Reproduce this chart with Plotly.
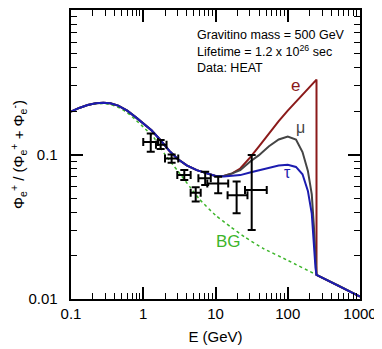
import numpy as np
import plotly.graph_objects as go

# total positron fraction (signal + BG), identical for all channels below ~10 GeV
E_TOT = [0.1, 0.13, 0.17, 0.22, 0.28, 0.35, 0.45, 0.6, 0.8, 1.0, 1.3, 1.7, 2.3, 3.0, 4.0, 5.5, 7.5]
R_TOT = [0.198, 0.210, 0.220, 0.226, 0.228, 0.226, 0.218, 0.201, 0.180, 0.164, 0.147, 0.127, 0.106, 0.093, 0.084, 0.078, 0.074]

# channel-dependent part, 10 GeV up to the cut-off at 250 GeV
E_SIG = [10, 13, 17, 22, 30, 40, 55, 75, 100, 130, 160, 190, 215, 230, 242, 250]
R_E   = [0.071, 0.071, 0.074, 0.080, 0.095, 0.114, 0.140, 0.170, 0.201, 0.232, 0.259, 0.284, 0.304, 0.315, 0.324, 0.330]
R_MU  = [0.071, 0.071, 0.074, 0.078, 0.089, 0.099, 0.114, 0.127, 0.133, 0.127, 0.104, 0.077, 0.053, 0.032, 0.020, 0.0147]
R_TAU = [0.071, 0.0705, 0.071, 0.072, 0.075, 0.078, 0.081, 0.084, 0.0848, 0.082, 0.073, 0.056, 0.039, 0.023, 0.0165, 0.0147]

# above the cut-off everything follows the background
E_TAIL = [250, 500, 1000]
R_TAIL = [0.0147, 0.0124, 0.0104]

# background only
E_BG = [0.1, 0.13, 0.17, 0.22, 0.28, 0.35, 0.45, 0.6, 0.8, 1.0, 1.4, 2.0, 3.0, 4.5, 6.0, 10, 16, 25, 45, 100, 250, 500, 1000]
R_BG = [0.198, 0.210, 0.219, 0.224, 0.225, 0.222, 0.212, 0.195, 0.172, 0.155, 0.131, 0.100, 0.077, 0.059, 0.049, 0.038,
        0.0317, 0.027, 0.0225, 0.0185, 0.0147, 0.0124, 0.0104]

# HEAT data
HEAT_E    = [1.27, 1.74, 2.47, 3.7, 5.32, 7.2, 10.9, 19.6, 31.7]
HEAT_E_LO = [1.0, 1.5, 2.0, 2.96, 4.53, 5.8, 7.7, 14.7, 25.6]
HEAT_E_HI = [1.6, 2.1, 3.05, 4.53, 6.24, 8.6, 15.0, 27.7, 51.2]
HEAT_R    = [0.122, 0.117, 0.094, 0.072, 0.0544, 0.0684, 0.063, 0.0522, 0.0568]
HEAT_R_LO = [0.1045, 0.109, 0.0878, 0.0667, 0.0472, 0.0615, 0.054, 0.0392, 0.030]
HEAT_R_HI = [0.140, 0.126, 0.100, 0.078, 0.0593, 0.076, 0.0702, 0.065, 0.0993]

RED, GRAY, BLUE, GREEN = "#8b1a1a", "#454545", "#1c1cb0", "#3cb52a"
FONT = "Liberation Sans, Arial, sans-serif"
PAD = "\u00a0\u00a0"

fig = go.Figure()

fig.add_trace(go.Scatter(x=E_BG, y=R_BG, mode="lines", line_shape="spline",
                         line=dict(color=GREEN, width=1.5, dash="dot", smoothing=0.5)))

for r_sig, color in [(R_E, RED), (R_MU, GRAY), (R_TAU, BLUE)]:
    xs = E_TOT + E_SIG + E_TAIL
    ys = R_TOT + r_sig + R_TAIL
    fig.add_trace(go.Scatter(x=xs, y=ys, mode="lines",
                             line=dict(color=color, width=2)))

e = np.array(HEAT_E)
r = np.array(HEAT_R)
fig.add_trace(go.Scatter(
    x=HEAT_E, y=HEAT_R, mode="markers",
    marker=dict(size=2, color="black"),
    error_x=dict(type="data", symmetric=False,
                 array=np.array(HEAT_E_HI) - e, arrayminus=e - np.array(HEAT_E_LO),
                 color="black", thickness=2, width=4),
    error_y=dict(type="data", symmetric=False,
                 array=np.array(HEAT_R_HI) - r, arrayminus=r - np.array(HEAT_R_LO),
                 color="black", thickness=2, width=4),
))

axis_common = dict(
    type="log", showline=True, linecolor="black", linewidth=2, mirror="allticks",
    ticks="inside", ticklen=12, tickwidth=1.5, tickcolor="black",
    showgrid=False, zeroline=False, automargin=False,
    tickfont=dict(size=15, color="black", family=FONT),
    minor=dict(ticks="inside", ticklen=6, tickwidth=1.2, tickcolor="black",
               dtick="D1", showgrid=False),
)

fig.update_xaxes(
    **axis_common, range=[-1, 3],
    tickvals=[0.1, 1, 10, 100, 1000], ticktext=["0.1", "1", "10", "100", "1000"],
    title=dict(text="E (GeV)", font=dict(size=15, color="black", family=FONT), standoff=10),
)
fig.update_yaxes(
    **axis_common, range=[-2, 0],
    tickvals=[0.01, 0.1, 1], ticktext=["0.01" + PAD, "0.1" + PAD, "1" + PAD],
    title=dict(text="Φ<sub>e</sub><sup>+</sup> / (Φ<sub>e</sub><sup>+</sup> + Φ<sub>e</sub><sup>-</sup>)",
               font=dict(size=15, color="black", family=FONT), standoff=4),
)

info = ["Gravitino mass = 500 GeV", "Lifetime = 1.2 x 10<sup>26</sup> sec", "Data: HEAT"]
for i, txt in enumerate(info):
    fig.add_annotation(text=txt, xref="paper", yref="paper", x=0.429, y=0.915 - i * 0.058,
                       xanchor="left", yanchor="middle", showarrow=False,
                       font=dict(size=12.5, color="black", family=FONT))

labels = [("e", 128, 0.298, RED, 17), ("μ", 152, 0.154, GRAY, 16),
          ("τ", 98, 0.0745, BLUE, 16), ("BG", 15, 0.0249, GREEN, 17)]
for txt, lx, ly, color, size in labels:
    fig.add_annotation(text=txt, x=np.log10(lx), y=np.log10(ly), showarrow=False,
                       xanchor="center", yanchor="middle",
                       font=dict(size=size, color=color, family=FONT))

# the page puts the figure 8 px in from the top-left corner
fig.update_layout(
    width=374, height=341,
    margin=dict(l=63, r=22, t=2, b=50),
    plot_bgcolor="white", paper_bgcolor="white",
    showlegend=False,
    font=dict(family=FONT, color="black"),
)

fig.write_html("out.html")
